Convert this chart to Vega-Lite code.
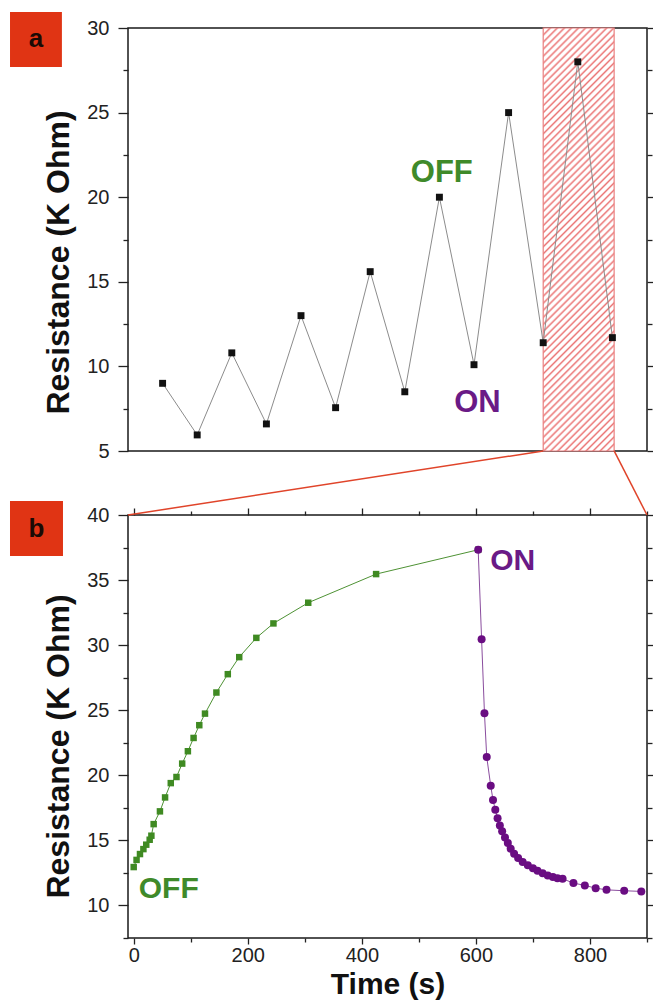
{
  "$schema": "https://vega.github.io/schema/vega-lite/v6.json",
  "padding": {"left": 9, "top": 11, "right": 0, "bottom": 0},
  "autosize": {"type": "pad"},
  "bounds": "flush",
  "spacing": 64,
  "background": "white",
  "config": {
    "view": {"stroke": "#1a1a1a", "strokeWidth": 1.5},
    "axis": {"labelFont": "Liberation Sans", "titleFont": "Liberation Sans", "domain": false, "grid": false, "tickColor": "#222", "tickWidth": 1.3, "labelColor": "#222", "titleColor": "#111", "titleFontWeight": "bold"},
    "text": {"font": "Liberation Sans"}
  },
  "datasets": {
    "cycles": [
      {"i": 1, "r": 9.0}, {"i": 2, "r": 5.95}, {"i": 3, "r": 10.8}, {"i": 4, "r": 6.6},
      {"i": 5, "r": 13.0}, {"i": 6, "r": 7.56}, {"i": 7, "r": 15.6}, {"i": 8, "r": 8.5},
      {"i": 9, "r": 20.0}, {"i": 10, "r": 10.1}, {"i": 11, "r": 25.0}, {"i": 12, "r": 11.4},
      {"i": 13, "r": 28.0}, {"i": 14, "r": 11.7}
    ],
    "hatchA": [{"i": 12, "i2": 14.05, "r": 5, "r2": 30}],
    "notesA": [
      {"i": 9.07, "r": 21.45, "text": "OFF", "state": "off"},
      {"i": 10.1, "r": 7.82, "text": "ON", "state": "on"}
    ],
    "tagA": [{"i": -3.41, "i2": -1.91, "r": 27.7, "r2": 30.95, "ic": -2.66, "rc": 29.33, "text": "a"}],
    "off": [
      {"t": 0, "r": 12.95}, {"t": 5, "r": 13.5}, {"t": 11, "r": 13.95}, {"t": 17, "r": 14.33},
      {"t": 22, "r": 14.67}, {"t": 28, "r": 15.05}, {"t": 31, "r": 15.36}, {"t": 35, "r": 16.25},
      {"t": 46, "r": 17.23}, {"t": 55, "r": 18.3}, {"t": 65, "r": 19.4}, {"t": 75, "r": 19.87},
      {"t": 85, "r": 20.9}, {"t": 95, "r": 21.85}, {"t": 105, "r": 22.87}, {"t": 115, "r": 23.85},
      {"t": 125, "r": 24.74}, {"t": 145, "r": 26.36}, {"t": 165, "r": 27.77}, {"t": 185, "r": 29.08},
      {"t": 215, "r": 30.56}, {"t": 245, "r": 31.67}, {"t": 306, "r": 33.26}, {"t": 425, "r": 35.46},
      {"t": 604, "r": 37.33}
    ],
    "on": [
      {"t": 604, "r": 37.33}, {"t": 610, "r": 30.46}, {"t": 615, "r": 24.77}, {"t": 619, "r": 21.4},
      {"t": 626, "r": 19.2}, {"t": 630, "r": 18.1}, {"t": 634, "r": 17.36}, {"t": 638, "r": 16.7},
      {"t": 642, "r": 16.15}, {"t": 646, "r": 15.7}, {"t": 651, "r": 15.23}, {"t": 656, "r": 14.8},
      {"t": 661, "r": 14.36}, {"t": 667, "r": 13.98}, {"t": 674, "r": 13.64}, {"t": 682, "r": 13.33},
      {"t": 691, "r": 13.08}, {"t": 700, "r": 12.85}, {"t": 708, "r": 12.67}, {"t": 717, "r": 12.48},
      {"t": 726, "r": 12.3}, {"t": 735, "r": 12.18}, {"t": 743, "r": 12.1}, {"t": 752, "r": 12.05},
      {"t": 771, "r": 11.72}, {"t": 791, "r": 11.54}, {"t": 810, "r": 11.33}, {"t": 829, "r": 11.2},
      {"t": 860, "r": 11.13}, {"t": 890, "r": 11.08}
    ],
    "zoom": [
      {"t": -10, "r": 40, "t2": 718, "r2": 44.92},
      {"t": 900, "r": 40, "t2": 842.4, "r2": 44.92}
    ],
    "notesB": [
      {"t": 664.6, "r": 36.5, "text": "ON", "state": "on"},
      {"t": 61.4, "r": 11.24, "text": "OFF", "state": "off"}
    ],
    "tagB": [{"t": -216.9, "t2": -124, "r": 36.85, "r2": 41.08, "tc": -170.5, "rc": 38.96, "text": "b"}]
  },
  "vconcat": [
    {
      "width": 519,
      "height": 423,
      "resolve": {"axis": {"y": "independent", "x": "independent"}},
      "layer": [
        {
          "data": {"name": "hatchA"},
          "mark": {
            "type": "rect", "stroke": "#e98080", "strokeWidth": 1.2,
            "fill": {"gradient": "linear", "x1": 0, "y1": 0, "x2": 0.1906, "y2": 1.136, "stops": [
              {"offset":0,"color":"#eb7676"},{"offset":0.0043,"color":"#fff"},{"offset":0.01,"color":"#fff"},
              {"offset":0.0143,"color":"#eb7676"},{"offset":0.0186,"color":"#fff"},{"offset":0.0243,"color":"#fff"},
              {"offset":0.0286,"color":"#eb7676"},{"offset":0.0329,"color":"#fff"},{"offset":0.0386,"color":"#fff"},
              {"offset":0.0429,"color":"#eb7676"},{"offset":0.0472,"color":"#fff"},{"offset":0.0529,"color":"#fff"},
              {"offset":0.0571,"color":"#eb7676"},{"offset":0.0614,"color":"#fff"},{"offset":0.0671,"color":"#fff"},
              {"offset":0.0714,"color":"#eb7676"},{"offset":0.0757,"color":"#fff"},{"offset":0.0814,"color":"#fff"},
              {"offset":0.0857,"color":"#eb7676"},{"offset":0.09,"color":"#fff"},{"offset":0.0957,"color":"#fff"},
              {"offset":0.1,"color":"#eb7676"},{"offset":0.1043,"color":"#fff"},{"offset":0.11,"color":"#fff"},
              {"offset":0.1143,"color":"#eb7676"},{"offset":0.1186,"color":"#fff"},{"offset":0.1243,"color":"#fff"},
              {"offset":0.1286,"color":"#eb7676"},{"offset":0.1329,"color":"#fff"},{"offset":0.1386,"color":"#fff"},
              {"offset":0.1429,"color":"#eb7676"},{"offset":0.1472,"color":"#fff"},{"offset":0.1529,"color":"#fff"},
              {"offset":0.1571,"color":"#eb7676"},{"offset":0.1614,"color":"#fff"},{"offset":0.1671,"color":"#fff"},
              {"offset":0.1714,"color":"#eb7676"},{"offset":0.1757,"color":"#fff"},{"offset":0.1814,"color":"#fff"},
              {"offset":0.1857,"color":"#eb7676"},{"offset":0.19,"color":"#fff"},{"offset":0.1957,"color":"#fff"},
              {"offset":0.2,"color":"#eb7676"},{"offset":0.2043,"color":"#fff"},{"offset":0.21,"color":"#fff"},
              {"offset":0.2143,"color":"#eb7676"},{"offset":0.2186,"color":"#fff"},{"offset":0.2243,"color":"#fff"},
              {"offset":0.2286,"color":"#eb7676"},{"offset":0.2329,"color":"#fff"},{"offset":0.2386,"color":"#fff"},
              {"offset":0.2429,"color":"#eb7676"},{"offset":0.2472,"color":"#fff"},{"offset":0.2529,"color":"#fff"},
              {"offset":0.2571,"color":"#eb7676"},{"offset":0.2614,"color":"#fff"},{"offset":0.2671,"color":"#fff"},
              {"offset":0.2714,"color":"#eb7676"},{"offset":0.2757,"color":"#fff"},{"offset":0.2814,"color":"#fff"},
              {"offset":0.2857,"color":"#eb7676"},{"offset":0.29,"color":"#fff"},{"offset":0.2957,"color":"#fff"},
              {"offset":0.3,"color":"#eb7676"},{"offset":0.3043,"color":"#fff"},{"offset":0.31,"color":"#fff"},
              {"offset":0.3143,"color":"#eb7676"},{"offset":0.3186,"color":"#fff"},{"offset":0.3243,"color":"#fff"},
              {"offset":0.3286,"color":"#eb7676"},{"offset":0.3329,"color":"#fff"},{"offset":0.3386,"color":"#fff"},
              {"offset":0.3429,"color":"#eb7676"},{"offset":0.3472,"color":"#fff"},{"offset":0.3529,"color":"#fff"},
              {"offset":0.3571,"color":"#eb7676"},{"offset":0.3614,"color":"#fff"},{"offset":0.3671,"color":"#fff"},
              {"offset":0.3714,"color":"#eb7676"},{"offset":0.3757,"color":"#fff"},{"offset":0.3814,"color":"#fff"},
              {"offset":0.3857,"color":"#eb7676"},{"offset":0.39,"color":"#fff"},{"offset":0.3957,"color":"#fff"},
              {"offset":0.4,"color":"#eb7676"},{"offset":0.4043,"color":"#fff"},{"offset":0.41,"color":"#fff"},
              {"offset":0.4143,"color":"#eb7676"},{"offset":0.4186,"color":"#fff"},{"offset":0.4243,"color":"#fff"},
              {"offset":0.4286,"color":"#eb7676"},{"offset":0.4329,"color":"#fff"},{"offset":0.4386,"color":"#fff"},
              {"offset":0.4429,"color":"#eb7676"},{"offset":0.4472,"color":"#fff"},{"offset":0.4529,"color":"#fff"},
              {"offset":0.4571,"color":"#eb7676"},{"offset":0.4614,"color":"#fff"},{"offset":0.4671,"color":"#fff"},
              {"offset":0.4714,"color":"#eb7676"},{"offset":0.4757,"color":"#fff"},{"offset":0.4814,"color":"#fff"},
              {"offset":0.4857,"color":"#eb7676"},{"offset":0.49,"color":"#fff"},{"offset":0.4957,"color":"#fff"},
              {"offset":0.5,"color":"#eb7676"},{"offset":0.5043,"color":"#fff"},{"offset":0.51,"color":"#fff"},
              {"offset":0.5143,"color":"#eb7676"},{"offset":0.5186,"color":"#fff"},{"offset":0.5243,"color":"#fff"},
              {"offset":0.5286,"color":"#eb7676"},{"offset":0.5329,"color":"#fff"},{"offset":0.5386,"color":"#fff"},
              {"offset":0.5429,"color":"#eb7676"},{"offset":0.5472,"color":"#fff"},{"offset":0.5529,"color":"#fff"},
              {"offset":0.5571,"color":"#eb7676"},{"offset":0.5614,"color":"#fff"},{"offset":0.5671,"color":"#fff"},
              {"offset":0.5714,"color":"#eb7676"},{"offset":0.5757,"color":"#fff"},{"offset":0.5814,"color":"#fff"},
              {"offset":0.5857,"color":"#eb7676"},{"offset":0.59,"color":"#fff"},{"offset":0.5957,"color":"#fff"},
              {"offset":0.6,"color":"#eb7676"},{"offset":0.6043,"color":"#fff"},{"offset":0.61,"color":"#fff"},
              {"offset":0.6143,"color":"#eb7676"},{"offset":0.6186,"color":"#fff"},{"offset":0.6243,"color":"#fff"},
              {"offset":0.6286,"color":"#eb7676"},{"offset":0.6329,"color":"#fff"},{"offset":0.6386,"color":"#fff"},
              {"offset":0.6429,"color":"#eb7676"},{"offset":0.6472,"color":"#fff"},{"offset":0.6529,"color":"#fff"},
              {"offset":0.6571,"color":"#eb7676"},{"offset":0.6614,"color":"#fff"},{"offset":0.6671,"color":"#fff"},
              {"offset":0.6714,"color":"#eb7676"},{"offset":0.6757,"color":"#fff"},{"offset":0.6814,"color":"#fff"},
              {"offset":0.6857,"color":"#eb7676"},{"offset":0.69,"color":"#fff"},{"offset":0.6957,"color":"#fff"},
              {"offset":0.7,"color":"#eb7676"},{"offset":0.7043,"color":"#fff"},{"offset":0.71,"color":"#fff"},
              {"offset":0.7143,"color":"#eb7676"},{"offset":0.7186,"color":"#fff"},{"offset":0.7243,"color":"#fff"},
              {"offset":0.7286,"color":"#eb7676"},{"offset":0.7329,"color":"#fff"},{"offset":0.7386,"color":"#fff"},
              {"offset":0.7429,"color":"#eb7676"},{"offset":0.7472,"color":"#fff"},{"offset":0.7529,"color":"#fff"},
              {"offset":0.7571,"color":"#eb7676"},{"offset":0.7614,"color":"#fff"},{"offset":0.7671,"color":"#fff"},
              {"offset":0.7714,"color":"#eb7676"},{"offset":0.7757,"color":"#fff"},{"offset":0.7814,"color":"#fff"},
              {"offset":0.7857,"color":"#eb7676"},{"offset":0.79,"color":"#fff"},{"offset":0.7957,"color":"#fff"},
              {"offset":0.8,"color":"#eb7676"},{"offset":0.8043,"color":"#fff"},{"offset":0.81,"color":"#fff"},
              {"offset":0.8143,"color":"#eb7676"},{"offset":0.8186,"color":"#fff"},{"offset":0.8243,"color":"#fff"},
              {"offset":0.8286,"color":"#eb7676"},{"offset":0.8329,"color":"#fff"},{"offset":0.8386,"color":"#fff"},
              {"offset":0.8429,"color":"#eb7676"},{"offset":0.8472,"color":"#fff"},{"offset":0.8529,"color":"#fff"},
              {"offset":0.8571,"color":"#eb7676"},{"offset":0.8614,"color":"#fff"},{"offset":0.8671,"color":"#fff"},
              {"offset":0.8714,"color":"#eb7676"},{"offset":0.8757,"color":"#fff"},{"offset":0.8814,"color":"#fff"},
              {"offset":0.8857,"color":"#eb7676"},{"offset":0.89,"color":"#fff"},{"offset":0.8957,"color":"#fff"},
              {"offset":0.9,"color":"#eb7676"},{"offset":0.9043,"color":"#fff"},{"offset":0.91,"color":"#fff"},
              {"offset":0.9143,"color":"#eb7676"},{"offset":0.9186,"color":"#fff"},{"offset":0.9243,"color":"#fff"},
              {"offset":0.9286,"color":"#eb7676"},{"offset":0.9329,"color":"#fff"},{"offset":0.9386,"color":"#fff"},
              {"offset":0.9429,"color":"#eb7676"},{"offset":0.9472,"color":"#fff"},{"offset":0.9529,"color":"#fff"},
              {"offset":0.9571,"color":"#eb7676"},{"offset":0.9614,"color":"#fff"},{"offset":0.9671,"color":"#fff"},
              {"offset":0.9714,"color":"#eb7676"},{"offset":0.9757,"color":"#fff"},{"offset":0.9814,"color":"#fff"},
              {"offset":0.9857,"color":"#eb7676"},{"offset":0.99,"color":"#fff"},{"offset":0.9957,"color":"#fff"},
              {"offset":1,"color":"#eb7676"}
            ]}
          },
          "encoding": {
            "x": {"field": "i", "type": "quantitative", "scale": {"domain": [0, 15], "nice": false, "zero": false}, "axis": null},
            "x2": {"field": "i2"},
            "y": {"field": "r", "type": "quantitative", "scale": {"domain": [5, 30], "nice": false, "zero": false},
              "axis": {"orient": "left", "title": "Resistance (K Ohm)", "values": [5, 7.5, 10, 12.5, 15, 17.5, 20, 22.5, 25, 27.5, 30],
                "format": "d", "labelExpr": "datum.value % 5 === 0 ? datum.label : ''",
                "tickSize": {"condition": {"test": "datum.value % 5 === 0", "value": 10}, "value": 5},
                "labelFontSize": 20, "labelPadding": 9, "titleFontSize": 32, "titlePadding": 11, "titleY": 234}},
            "y2": {"field": "r2"}
          }
        },
        {
          "data": {"name": "cycles"},
          "mark": {"type": "line", "color": "#8c8c8c", "strokeWidth": 1},
          "encoding": {
            "x": {"field": "i", "type": "quantitative", "scale": {"domain": [0, 15], "nice": false, "zero": false}, "axis": null},
            "y": {"field": "r", "type": "quantitative", "scale": {"domain": [5, 30], "nice": false, "zero": false},
              "axis": {"orient": "right", "title": null, "labels": false, "values": [5, 7.5, 10, 12.5, 15, 17.5, 20, 22.5, 25, 27.5, 30],
                "tickSize": {"condition": {"test": "datum.value % 5 === 0", "value": 7}, "value": 5}}}
          }
        },
        {
          "data": {"name": "cycles"},
          "mark": {"type": "point", "shape": "square", "filled": true, "color": "#111", "size": 48, "opacity": 1},
          "encoding": {
            "x": {"field": "i", "type": "quantitative", "scale": {"domain": [0, 15], "nice": false, "zero": false}, "axis": null},
            "y": {"field": "r", "type": "quantitative", "scale": {"domain": [5, 30], "nice": false, "zero": false}, "axis": null}
          }
        },
        {
          "data": {"name": "notesA"},
          "mark": {"type": "text", "fontSize": 31, "fontWeight": "bold", "align": "center", "baseline": "middle"},
          "encoding": {
            "x": {"field": "i", "type": "quantitative", "scale": {"domain": [0, 15], "nice": false, "zero": false}, "axis": null},
            "y": {"field": "r", "type": "quantitative", "scale": {"domain": [5, 30], "nice": false, "zero": false}, "axis": null},
            "text": {"field": "text"},
            "color": {"field": "state", "type": "nominal", "scale": {"domain": ["off", "on"], "range": ["#3f8a2a", "#6a1a86"]}, "legend": null}
          }
        },
        {
          "data": {"name": "tagA"},
          "mark": {"type": "rect", "color": "#e03414"},
          "encoding": {
            "x": {"field": "i", "type": "quantitative", "scale": {"domain": [0, 15], "nice": false, "zero": false}, "axis": null},
            "x2": {"field": "i2"},
            "y": {"field": "r", "type": "quantitative", "scale": {"domain": [5, 30], "nice": false, "zero": false}, "axis": null},
            "y2": {"field": "r2"}
          }
        },
        {
          "data": {"name": "tagA"},
          "mark": {"type": "text", "fontSize": 26, "fontWeight": "bold", "color": "#1a0a05", "align": "center", "baseline": "middle"},
          "encoding": {
            "x": {"field": "ic", "type": "quantitative", "scale": {"domain": [0, 15], "nice": false, "zero": false}, "axis": null},
            "y": {"field": "rc", "type": "quantitative", "scale": {"domain": [5, 30], "nice": false, "zero": false}, "axis": null},
            "text": {"field": "text"}
          }
        }
      ]
    },
    {
      "width": 519,
      "height": 423,
      "resolve": {"axis": {"y": "independent", "x": "independent"}},
      "layer": [
        {
          "data": {"name": "zoom"},
          "mark": {"type": "rule", "color": "#e0442a", "strokeWidth": 1.5},
          "encoding": {
            "x": {"field": "t", "type": "quantitative", "scale": {"domain": [-10, 900], "nice": false, "zero": false},
              "axis": {"orient": "bottom", "title": "Time (s)", "values": [0, 100, 200, 300, 400, 500, 600, 700, 800, 900],
                "labelExpr": "datum.value % 200 === 0 ? datum.label : ''",
                "tickSize": {"condition": {"test": "datum.value % 200 === 0", "value": 6}, "value": 4},
                "labelFontSize": 20, "labelPadding": 1, "titleFontSize": 30, "titlePadding": 4}},
            "x2": {"field": "t2"},
            "y": {"field": "r", "type": "quantitative", "scale": {"domain": [7.5, 40], "nice": false, "zero": false},
              "axis": {"orient": "left", "title": "Resistance (K Ohm)", "values": [7.5, 10, 12.5, 15, 17.5, 20, 22.5, 25, 27.5, 30, 32.5, 35, 37.5, 40],
                "format": "d", "labelExpr": "datum.value % 5 === 0 ? datum.label : ''",
                "tickSize": {"condition": {"test": "datum.value % 5 === 0", "value": 10}, "value": 5},
                "labelFontSize": 20, "labelPadding": 9, "titleFontSize": 32, "titlePadding": 11, "titleY": 231}},
            "y2": {"field": "r2"}
          }
        },
        {
          "data": {"name": "off"},
          "mark": {"type": "line", "color": "#4e9234", "strokeWidth": 1},
          "encoding": {
            "x": {"field": "t", "type": "quantitative", "scale": {"domain": [-10, 900], "nice": false, "zero": false},
              "axis": {"orient": "top", "title": null, "labels": false, "values": [0, 100, 200, 300, 400, 500, 600, 700, 800, 900],
                "tickSize": {"condition": {"test": "datum.value % 200 === 0", "value": 7}, "value": 4}}},
            "y": {"field": "r", "type": "quantitative", "scale": {"domain": [7.5, 40], "nice": false, "zero": false},
              "axis": {"orient": "right", "title": null, "labels": false, "values": [7.5, 10, 12.5, 15, 17.5, 20, 22.5, 25, 27.5, 30, 32.5, 35, 37.5, 40],
                "tickSize": {"condition": {"test": "datum.value % 5 === 0", "value": 7}, "value": 5}}}
          }
        },
        {
          "data": {"name": "off"},
          "mark": {"type": "point", "shape": "square", "filled": true, "color": "#3f8a22", "size": 42, "opacity": 1},
          "encoding": {
            "x": {"field": "t", "type": "quantitative", "scale": {"domain": [-10, 900], "nice": false, "zero": false}, "axis": null},
            "y": {"field": "r", "type": "quantitative", "scale": {"domain": [7.5, 40], "nice": false, "zero": false}, "axis": null}
          }
        },
        {
          "data": {"name": "on"},
          "mark": {"type": "line", "color": "#8a4d9e", "strokeWidth": 1},
          "encoding": {
            "x": {"field": "t", "type": "quantitative", "scale": {"domain": [-10, 900], "nice": false, "zero": false}, "axis": null},
            "y": {"field": "r", "type": "quantitative", "scale": {"domain": [7.5, 40], "nice": false, "zero": false}, "axis": null}
          }
        },
        {
          "data": {"name": "on"},
          "mark": {"type": "point", "shape": "circle", "filled": true, "color": "#6a0d82", "size": 64, "opacity": 1},
          "encoding": {
            "x": {"field": "t", "type": "quantitative", "scale": {"domain": [-10, 900], "nice": false, "zero": false}, "axis": null},
            "y": {"field": "r", "type": "quantitative", "scale": {"domain": [7.5, 40], "nice": false, "zero": false}, "axis": null}
          }
        },
        {
          "data": {"name": "notesB"},
          "mark": {"type": "text", "fontSize": 30, "fontWeight": "bold", "align": "center", "baseline": "middle"},
          "encoding": {
            "x": {"field": "t", "type": "quantitative", "scale": {"domain": [-10, 900], "nice": false, "zero": false}, "axis": null},
            "y": {"field": "r", "type": "quantitative", "scale": {"domain": [7.5, 40], "nice": false, "zero": false}, "axis": null},
            "text": {"field": "text"},
            "color": {"field": "state", "type": "nominal", "scale": {"domain": ["off", "on"], "range": ["#3f8a2a", "#6a1a86"]}, "legend": null}
          }
        },
        {
          "data": {"name": "tagB"},
          "mark": {"type": "rect", "color": "#e03414"},
          "encoding": {
            "x": {"field": "t", "type": "quantitative", "scale": {"domain": [-10, 900], "nice": false, "zero": false}, "axis": null},
            "x2": {"field": "t2"},
            "y": {"field": "r", "type": "quantitative", "scale": {"domain": [7.5, 40], "nice": false, "zero": false}, "axis": null},
            "y2": {"field": "r2"}
          }
        },
        {
          "data": {"name": "tagB"},
          "mark": {"type": "text", "fontSize": 26, "fontWeight": "bold", "color": "#1a0a05", "align": "center", "baseline": "middle"},
          "encoding": {
            "x": {"field": "tc", "type": "quantitative", "scale": {"domain": [-10, 900], "nice": false, "zero": false}, "axis": null},
            "y": {"field": "rc", "type": "quantitative", "scale": {"domain": [7.5, 40], "nice": false, "zero": false}, "axis": null},
            "text": {"field": "text"}
          }
        }
      ]
    }
  ]
}
